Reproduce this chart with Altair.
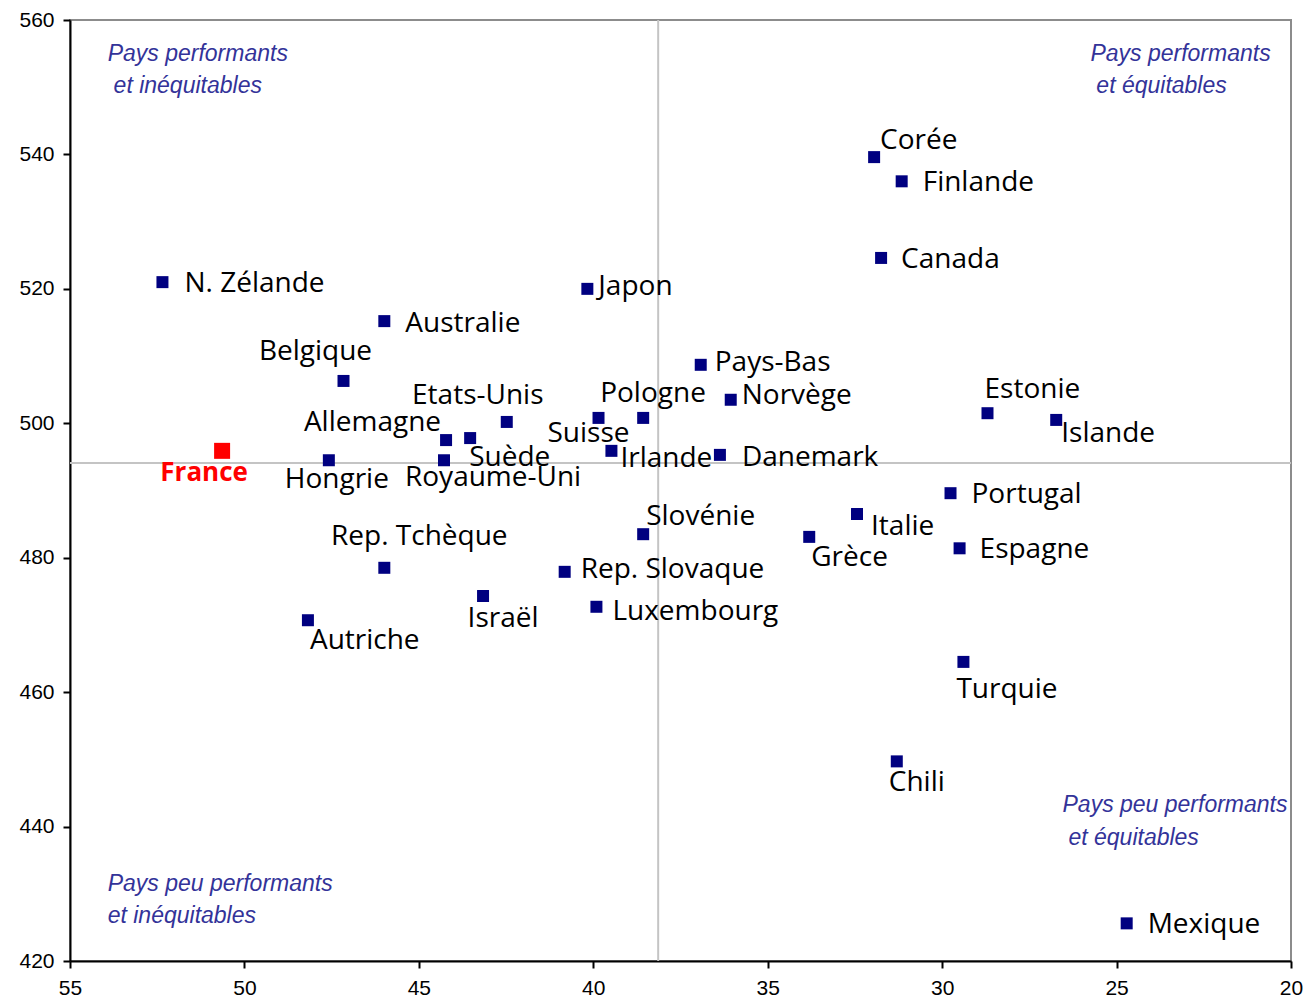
import altair as alt
import pandas as pd

# ---------------- data ----------------
countries = ["N. Zélande", "France", "Hongrie", "Belgique", "Australie", "Allemagne",
             "Suède", "Royaume-Uni", "Etats-Unis", "Rep. Tchèque", "Autriche", "Israël",
             "Rep. Slovaque", "Japon", "Suisse", "Pologne", "Irlande", "Slovénie",
             "Luxembourg", "Pays-Bas", "Norvège", "Danemark", "Grèce", "Italie", "Corée",
             "Finlande", "Canada", "Chili", "Portugal", "Espagne", "Turquie", "Estonie",
             "Islande", "Mexique"]
x_values = [52.35, 50.64, 47.58, 47.16, 45.99, 44.22, 43.53, 44.28, 42.48, 45.99, 48.18,
            43.16, 40.82, 40.17, 39.85, 38.57, 39.48, 38.57, 39.91, 36.92, 36.06, 36.37,
            33.81, 32.44, 31.95, 31.16, 31.75, 31.30, 29.76, 29.50, 29.39, 28.70, 26.73,
            24.71]
y_values = [521.0, 495.9, 494.5, 506.3, 515.2, 497.5, 497.8, 494.5, 500.2, 478.5, 470.7,
            474.3, 477.9, 520.0, 500.8, 500.8, 495.9, 483.5, 472.7, 508.7, 503.5, 495.3,
            483.1, 486.5, 539.6, 536.0, 524.6, 449.7, 489.6, 481.4, 464.5, 501.5, 500.5,
            425.6]
highlight = ["France"]

ref_x = [38.14]
ref_y = [494.1]

annot_text = ["Pays performants", "et inéquitables", "Pays performants", "et équitables",
              "Pays peu performants", "et équitables", "Pays peu performants", "et inéquitables"]
annot_x = [53.92, 53.75, 25.75, 25.58, 26.55, 26.38, 53.92, 53.92]
annot_y = [554.9, 550.2, 554.9, 550.2, 443.2, 438.3, 431.4, 426.7]

x_ticks = [55, 50, 45, 40, 35, 30, 25, 20]
y_ticks = [420, 440, 460, 480, 500, 520, 540, 560]

# label placement (style): align, dx, dy in pixels
label_style = {
    "N. Zélande": ("left", 22, 2), "France": ("center", -18, 22), "Hongrie": ("center", 8, 20),
    "Belgique": ("center", -28, -29), "Australie": ("left", 21, 3), "Allemagne": ("right", -5, -17),
    "Suède": ("left", -1, 20), "Royaume-Uni": ("left", -39, 18), "Etats-Unis": ("center", -29, -26),
    "Rep. Tchèque": ("center", 35, -31), "Autriche": ("left", 2, 21), "Israël": ("center", 20, 23),
    "Rep. Slovaque": ("left", 16, -2), "Japon": ("left", 11, -2), "Suisse": ("left", -51, 16),
    "Pologne": ("left", -43, -24), "Irlande": ("left", 9, 8), "Slovénie": ("left", 3, -17),
    "Luxembourg": ("left", 16, 5), "Pays-Bas": ("left", 14, -2), "Norvège": ("left", 11, -4),
    "Danemark": ("left", 22, 3), "Grèce": ("left", 2, 21), "Italie": ("left", 14, 13),
    "Corée": ("left", 6, -16), "Finlande": ("left", 21, 2), "Canada": ("left", 20, 2),
    "Chili": ("left", -8, 22), "Portugal": ("left", 21, 2), "Espagne": ("left", 20, 2),
    "Turquie": ("left", -7, 28), "Estonie": ("left", -3, -23), "Islande": ("left", 5, 14),
    "Mexique": ("left", 21, 2),
}

df = pd.DataFrame({"pays": countries, "x": x_values, "y": y_values})
df["hl"] = df["pays"].isin(highlight)
df_ann = pd.DataFrame({"t": annot_text, "x": annot_x, "y": annot_y})

xs = alt.Scale(domain=[20, 55], reverse=True, nice=False, zero=False)
ys = alt.Scale(domain=[420, 560], nice=False, zero=False)

x_axis = alt.Axis(values=x_ticks, format="d", title=None, labelPadding=9, grid=False,
                  domainColor="black", domainWidth=2, tickColor="black", tickWidth=2,
                  tickSize=7, labelFont="Liberation Sans", labelFontSize=21,
                  labelColor="black", labelFlush=False, labelOverlap=False)
y_axis = alt.Axis(values=y_ticks, format="d", title=None, labelPadding=9, grid=False,
                  domainColor="black", domainWidth=2, tickColor="black", tickWidth=2,
                  tickSize=7, labelFont="Liberation Sans", labelFontSize=21,
                  labelColor="black", labelFlush=False, labelOverlap=False)

X = alt.X("x:Q", scale=xs, axis=x_axis)
Y = alt.Y("y:Q", scale=ys, axis=y_axis)

base = alt.Chart(df)

vrule = alt.Chart(pd.DataFrame({"x": ref_x})).mark_rule(color="#c4c4c4", strokeWidth=2).encode(x=X)
hrule = alt.Chart(pd.DataFrame({"y": ref_y})).mark_rule(color="#c4c4c4", strokeWidth=2).encode(y=Y)

pts = base.transform_filter(alt.datum.hl == False).mark_square(
    color="#000080", size=144, opacity=1, filled=True).encode(x=X, y=Y)
pts_hl = base.transform_filter(alt.datum.hl == True).mark_square(
    color="#ff0000", size=256, opacity=1, filled=True).encode(x=X, y=Y)

labels = []
for c in countries:
    al, dx, dy = label_style[c]
    is_hl = c in highlight
    labels.append(
        base.transform_filter(alt.datum.pays == c).mark_text(
            align=al, baseline="middle", dx=dx, dy=dy,
            font="Open Sans", fontSize=26 if is_hl else 28,
            fontWeight="bold" if is_hl else "normal",
            color="#ff0000" if is_hl else "black",
        ).encode(x=X, y=Y, text="pays:N")
    )

ann = alt.Chart(df_ann).mark_text(
    align="left", baseline="middle", font="Liberation Sans", fontStyle="italic",
    fontSize=23, color="#333399").encode(x=X, y=Y, text="t:N")

chart = alt.layer(vrule, hrule, pts, pts_hl, *labels, ann).properties(
    width=1221, height=941,
    background="white",
    autosize=alt.AutoSizeParams(type="none"),
    padding={"left": 62, "top": 12, "right": 12, "bottom": 37},
).configure_view(
    stroke="#8c8c8c", strokeWidth=2
).configure_axis(
    grid=False
)

chart.save("out.html", embed_options={"renderer": "svg", "actions": False})
